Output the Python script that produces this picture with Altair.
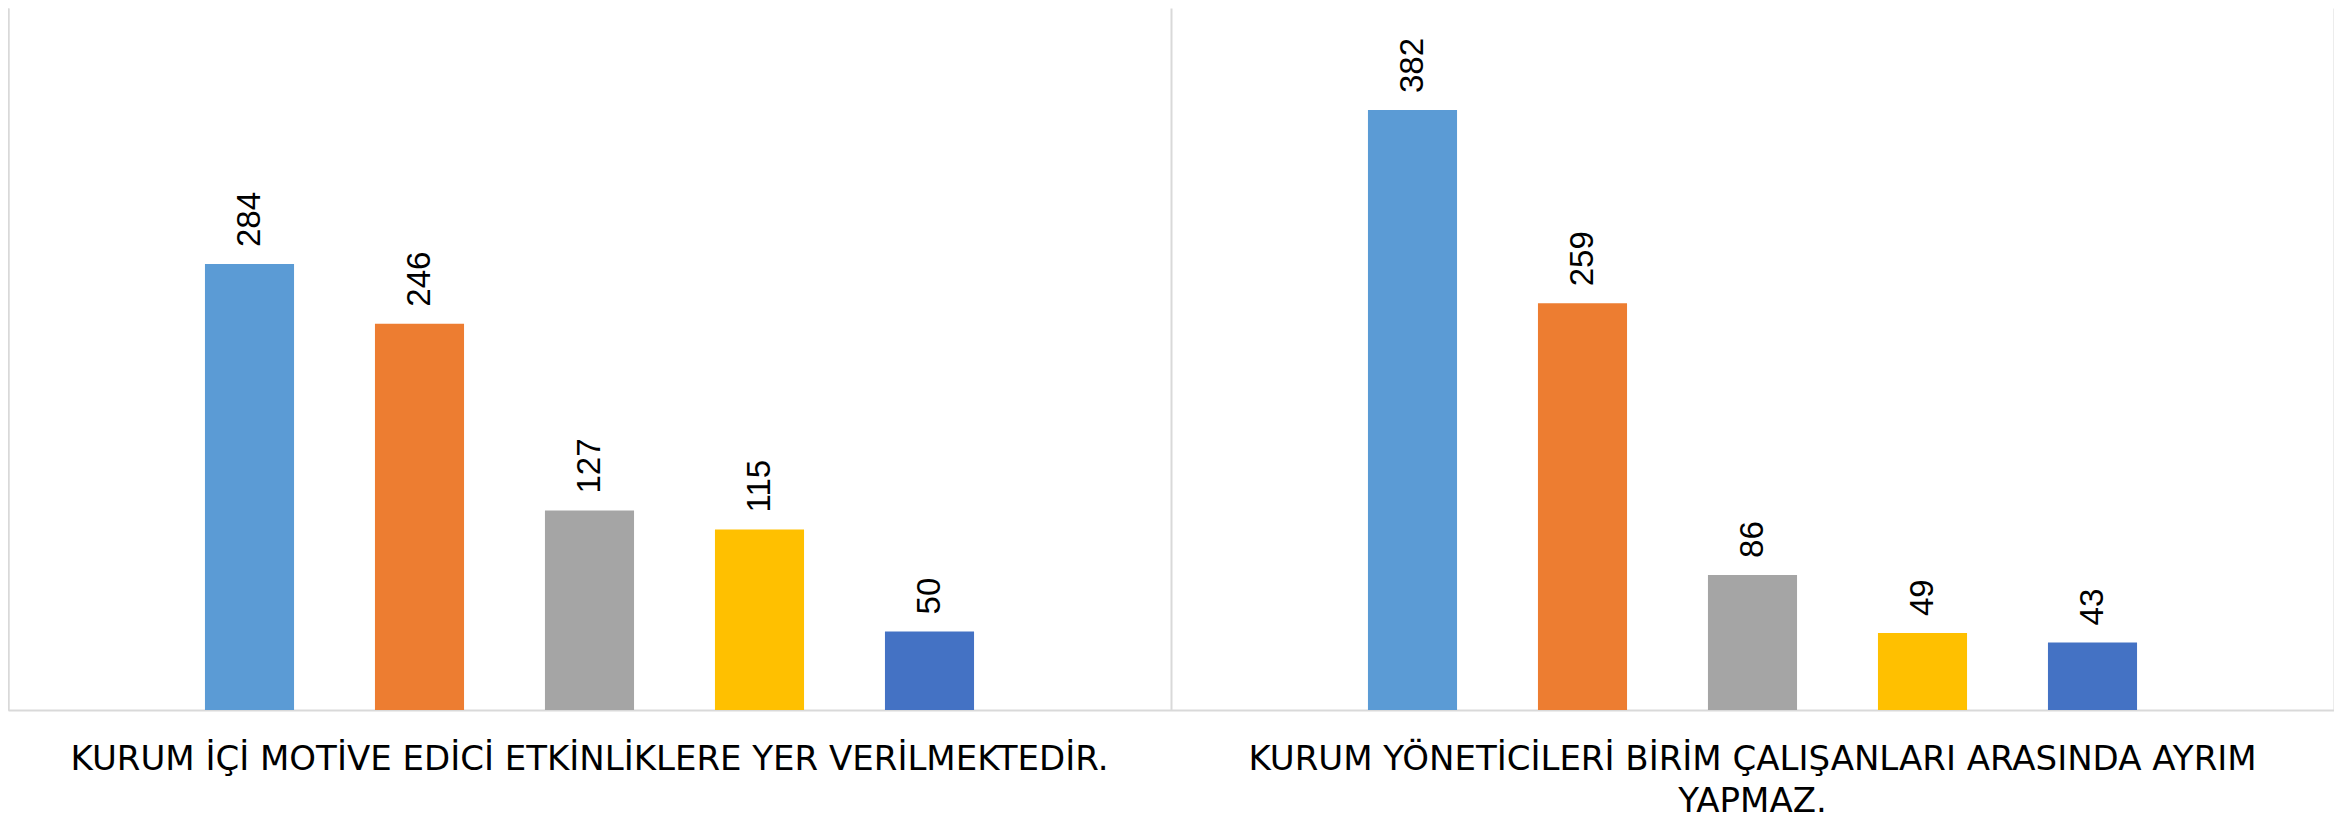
import json
import altair as alt
import pandas as pd

# ---- data ----
statements = [
    "KURUM İÇİ MOTİVE EDİCİ ETKİNLİKLERE YER VERİLMEKTEDİR.",
    "KURUM YÖNETİCİLERİ BİRİM ÇALIŞANLARI ARASINDA AYRIM YAPMAZ.",
]
label_lines = [
    ["KURUM İÇİ MOTİVE EDİCİ ETKİNLİKLERE YER VERİLMEKTEDİR."],
    ["KURUM YÖNETİCİLERİ BİRİM ÇALIŞANLARI ARASINDA AYRIM", "YAPMAZ."],
]
series = ["Seri 1", "Seri 2", "Seri 3", "Seri 4", "Seri 5"]
values_1 = [284, 246, 127, 115, 50]
values_2 = [382, 259, 86, 49, 43]
colors = ["#5B9BD5", "#ED7D31", "#A5A5A5", "#FFC000", "#4472C4"]

rows = []
for st, vals in zip(statements, [values_1, values_2]):
    for s, v in zip(series, vals):
        rows.append({"statement": st, "series": s, "value": v})
df = pd.DataFrame(rows)

# multi-line axis labels
expr = "datum.value"
for st, lines in zip(statements, label_lines):
    arr = "[" + ",".join(json.dumps(l, ensure_ascii=False) for l in lines) + "]"
    expr = f"datum.value == {json.dumps(st, ensure_ascii=False)} ? {arr} : ({expr})"

GRID = "#D9D9D9"
W, H = 2326, 702
panel = W / 2
group = 850  # width occupied by the 5-bar cluster inside one category

x_enc = alt.X(
    "statement:N",
    sort=statements,
    scale=alt.Scale(paddingInner=0, paddingOuter=0),
    axis=alt.Axis(
        title=None, labelAngle=0, ticks=False,
        domain=True, domainColor=GRID, domainWidth=2,
        grid=True, gridColor=GRID, gridWidth=2, bandPosition=0,
        labelFont="DejaVu Sans", labelFontSize=34, labelColor="#000000",
        labelPadding=59, labelBaseline="alphabetic", labelLineHeight=42,
        labelExpr=expr, labelLimit=0, labelOverlap=False,
    ),
)
xoff_enc = alt.XOffset(
    "series:N", sort=series,
    scale=alt.Scale(paddingInner=0.476, paddingOuter=0.238,
                    range=[(panel - group) / 2, (panel + group) / 2]),
)
y_scale = alt.Scale(domain=[0, 447], nice=False)

bars = alt.Chart(df).mark_bar().encode(
    x=x_enc,
    xOffset=xoff_enc,
    y=alt.Y("value:Q", scale=y_scale,
            axis=alt.Axis(title=None, labels=False, ticks=False, grid=False,
                          domain=True, domainColor=GRID, domainWidth=2)),
    color=alt.Color("series:N", sort=series,
                    scale=alt.Scale(domain=series, range=colors), legend=None),
)

texts = alt.Chart(df).mark_text(
    angle=270, align="left", baseline="middle", dx=17,
    font="Liberation Sans", fontSize=33, color="#000000",
).encode(
    x=x_enc,
    xOffset=xoff_enc,
    y=alt.Y("value:Q", scale=y_scale,
            axis=alt.Axis(title=None, labels=False, ticks=False, grid=False, orient="right",
                          domain=True, domainColor=GRID, domainWidth=2)),
    text=alt.Text("value:Q"),
)

chart = (
    alt.layer(bars, texts)
    .resolve_axis(y="independent")
    .properties(
        width=W, height=H,
        padding={"left": 0, "top": 0, "right": 0, "bottom": 106},
        autosize=alt.AutoSizeParams(type="none"),
        background="#FFFFFF",
    )
    .configure_view(stroke="transparent", strokeWidth=0)
)

chart.save("out.html", embed_options={"renderer": "svg", "actions": False})
